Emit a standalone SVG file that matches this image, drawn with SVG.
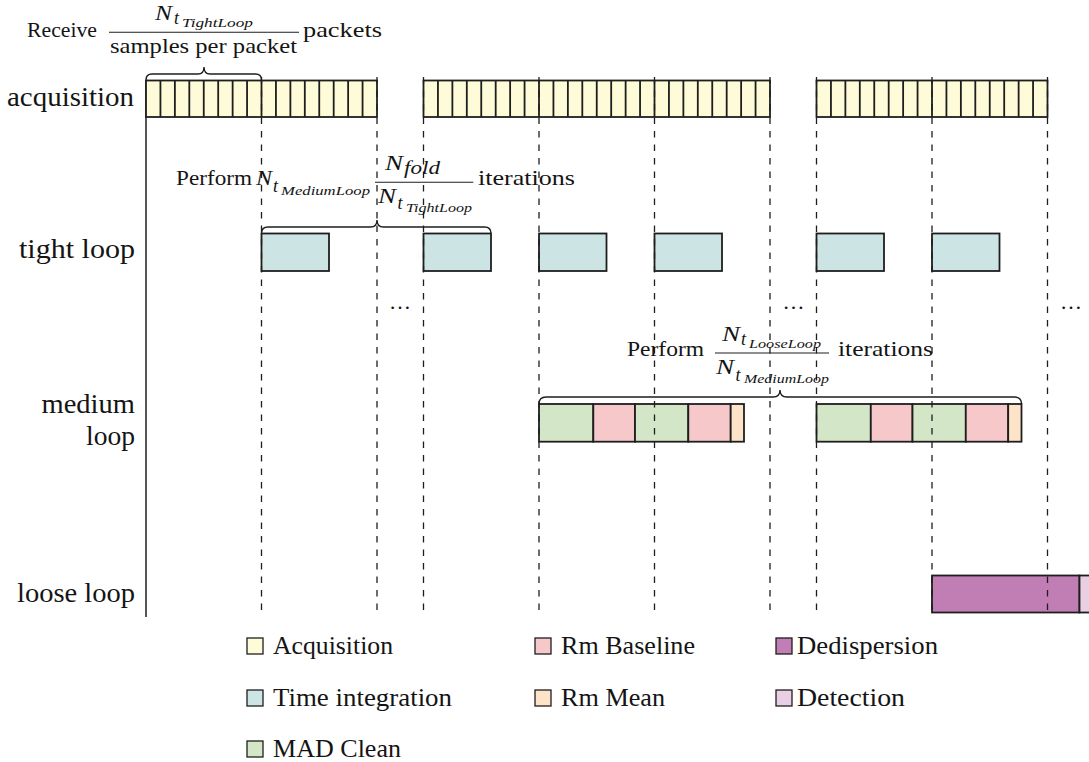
<svg xmlns="http://www.w3.org/2000/svg" width="1089" height="762" viewBox="0 0 1089 762" font-family="'Liberation Serif', Tinos, 'Times New Roman', 'DejaVu Serif', serif">
  <style>
    text { font-family: "Liberation Serif", Tinos, "Times New Roman", "DejaVu Serif", serif; fill: #141414; }
    .lbl { font-size: 28px; }
    .ann { font-size: 22px; }
    .leg { font-size: 25px; }
    .mi { font-style: italic; }
    .sub { font-size: 18px; font-style: italic; }
    .ssub { font-size: 13px; font-style: italic; }
    .box { stroke: #1e1e1e; stroke-width: 1.8; }
    .cell { stroke: #1e1e1e; stroke-width: 1.8; fill: none; }
    .acq { fill: #fefcd8; }
    .tint { fill: #cde4e4; }
    .mad { fill: #d3e7c8; }
    .rmb { fill: #f7c8c9; }
    .rmm { fill: #fde3c7; }
    .dedisp { fill: #c07eb5; }
    .detect { fill: #e8cfe3; }
    .guide { stroke: #1e1e1e; stroke-width: 1.3; stroke-dasharray: 6.5 7; fill: none; }
    .brace { stroke: #1e1e1e; stroke-width: 1.4; fill: none; }
    .frac { stroke: #1e1e1e; stroke-width: 1.1; }
    .legbox { stroke: #1e1e1e; stroke-width: 1.3; }
  </style>

  <!-- row labels -->
  <g id="row-labels">
    <text class="lbl" x="7" y="106" textLength="127" lengthAdjust="spacingAndGlyphs">acquisition</text>
    <text class="lbl" x="19" y="258" textLength="116" lengthAdjust="spacingAndGlyphs">tight loop</text>
    <text class="lbl" x="41.5" y="413" textLength="93.5" lengthAdjust="spacingAndGlyphs">medium</text>
    <text class="lbl" x="86" y="445" textLength="49" lengthAdjust="spacingAndGlyphs">loop</text>
    <text class="lbl" x="17" y="602" textLength="118" lengthAdjust="spacingAndGlyphs">loose loop</text>
  </g>

  <!-- time axis -->
  <line x1="146" y1="80" x2="146" y2="617" stroke="#1e1e1e" stroke-width="1.5"/>

  <!-- acquisition packets -->
  <g id="acquisition-1">
    <rect class="box acq" x="146" y="80.5" width="231" height="36.5"/>
    <path class="cell" d="M160.44 80.5V117M174.88 80.5V117M189.31 80.5V117M203.75 80.5V117M218.19 80.5V117M232.63 80.5V117M247.06 80.5V117M261.5 80.5V117M275.94 80.5V117M290.38 80.5V117M304.81 80.5V117M319.25 80.5V117M333.69 80.5V117M348.13 80.5V117M362.56 80.5V117"/>
  </g>
  <g id="acquisition-2">
    <rect class="box acq" x="423.5" y="80.5" width="346.5" height="36.5"/>
    <path class="cell" d="M437.94 80.5V117M452.38 80.5V117M466.81 80.5V117M481.25 80.5V117M495.69 80.5V117M510.13 80.5V117M524.56 80.5V117M539 80.5V117M553.44 80.5V117M567.88 80.5V117M582.31 80.5V117M596.75 80.5V117M611.19 80.5V117M625.63 80.5V117M640.06 80.5V117M654.5 80.5V117M668.94 80.5V117M683.38 80.5V117M697.81 80.5V117M712.25 80.5V117M726.69 80.5V117M741.13 80.5V117M755.56 80.5V117"/>
  </g>
  <g id="acquisition-3">
    <rect class="box acq" x="816.5" y="80.5" width="231" height="36.5"/>
    <path class="cell" d="M830.94 80.5V117M845.38 80.5V117M859.81 80.5V117M874.25 80.5V117M888.69 80.5V117M903.13 80.5V117M917.56 80.5V117M932 80.5V117M946.44 80.5V117M960.88 80.5V117M975.31 80.5V117M989.75 80.5V117M1004.19 80.5V117M1018.63 80.5V117M1033.06 80.5V117"/>
  </g>

  <!-- tight loop: time integration blocks -->
  <g id="tight-1"><rect class="box tint" x="261.5" y="233.5" width="67.5" height="37.5"/></g>
  <g id="tight-2"><rect class="box tint" x="423.5" y="233.5" width="67.5" height="37.5"/></g>
  <g id="tight-3"><rect class="box tint" x="539" y="233.5" width="67.5" height="37.5"/></g>
  <g id="tight-4"><rect class="box tint" x="654.5" y="233.5" width="67.5" height="37.5"/></g>
  <g id="tight-5"><rect class="box tint" x="816.5" y="233.5" width="67.5" height="37.5"/></g>
  <g id="tight-6"><rect class="box tint" x="932" y="233.5" width="67.5" height="37.5"/></g>

  <!-- medium loop: MAD clean / baseline / mean -->
  <g id="medium-1">
    <rect class="box mad" x="539" y="404" width="54.3" height="37.7"/>
    <rect class="box rmb" x="593.3" y="404" width="41.7" height="37.7"/>
    <rect class="box mad" x="635" y="404" width="53.3" height="37.7"/>
    <rect class="box rmb" x="688.3" y="404" width="42.4" height="37.7"/>
    <rect class="box rmm" x="730.7" y="404" width="13.3" height="37.7"/>
  </g>
  <g id="medium-2">
    <rect class="box mad" x="816.5" y="404" width="54.3" height="37.7"/>
    <rect class="box rmb" x="870.8" y="404" width="41.7" height="37.7"/>
    <rect class="box mad" x="912.5" y="404" width="53.3" height="37.7"/>
    <rect class="box rmb" x="965.8" y="404" width="42.4" height="37.7"/>
    <rect class="box rmm" x="1008.2" y="404" width="13.3" height="37.7"/>
  </g>

  <!-- loose loop: dedispersion + detection -->
  <g id="loose-1">
    <rect class="box dedisp" x="932" y="575.5" width="147.5" height="37"/>
    <rect class="box detect" x="1079.5" y="575.5" width="30" height="37"/>
  </g>

  <!-- iteration boundaries -->
  <g id="connectors">
    <path class="guide" d="M261.5 77V617M377 77V617M423.5 77V617M539 77V617M654.5 77V617M770 77V617M816.5 77V617M932 77V617M1047.5 77V617"/>
    <path class="brace" d="M146 80Q146 74 152 74L198 74Q204 74 204 67Q204 74 210 74L255.5 74Q261.5 74 261.5 80"/>
    <path class="brace" d="M261.5 233.5Q261.5 227 268 227L370.5 227Q377 227 377 220Q377 227 383.5 227L484.5 227Q491 227 491 233.5"/>
    <path class="brace" d="M539 404Q539 397 546 397L773 397Q780 397 780 390Q780 397 787 397L1014.5 397Q1021.5 397 1021.5 404"/>
  </g>

  <!-- annotation: packets per tight loop -->
  <g id="note-acquisition">
    <text class="ann" x="27" y="37" textLength="70" lengthAdjust="spacingAndGlyphs">Receive</text>
    <text class="ann mi" x="155" y="20" textLength="17" lengthAdjust="spacingAndGlyphs">N</text>
    <text class="sub" x="174" y="24">t</text>
    <text class="ssub" x="182" y="27" textLength="71" lengthAdjust="spacingAndGlyphs">TightLoop</text>
    <line class="frac" x1="109" y1="32.3" x2="299" y2="32.3"/>
    <text class="ann" x="110" y="53" textLength="187" lengthAdjust="spacingAndGlyphs">samples per packet</text>
    <text class="ann" x="303" y="37" textLength="79" lengthAdjust="spacingAndGlyphs">packets</text>
  </g>

  <!-- annotation: tight loop iterations -->
  <g id="note-tight">
    <text class="ann" x="176" y="185" textLength="76" lengthAdjust="spacingAndGlyphs">Perform</text>
    <text class="ann mi" x="256" y="185" textLength="16" lengthAdjust="spacingAndGlyphs">N</text>
    <text class="sub" x="273" y="192">t</text>
    <text class="ssub" x="281" y="195" textLength="89" lengthAdjust="spacingAndGlyphs">MediumLoop</text>
    <text class="ann mi" x="385" y="170" textLength="18" lengthAdjust="spacingAndGlyphs">N</text>
    <text class="sub" x="404" y="174" textLength="36" lengthAdjust="spacingAndGlyphs">fold</text>
    <line class="frac" x1="375" y1="182.3" x2="473.3" y2="182.3"/>
    <text class="ann mi" x="378" y="203" textLength="18" lengthAdjust="spacingAndGlyphs">N</text>
    <text class="sub" x="397.5" y="209">t</text>
    <text class="ssub" x="406" y="212" textLength="66" lengthAdjust="spacingAndGlyphs">TightLoop</text>
    <text class="ann" x="478" y="185" textLength="97" lengthAdjust="spacingAndGlyphs">iterations</text>
  </g>

  <!-- annotation: medium loop iterations -->
  <g id="note-medium">
    <text class="ann" x="627" y="356" textLength="77" lengthAdjust="spacingAndGlyphs">Perform</text>
    <text class="ann mi" x="722" y="341" textLength="18" lengthAdjust="spacingAndGlyphs">N</text>
    <text class="sub" x="741" y="344.5">t</text>
    <text class="ssub" x="749" y="347.5" textLength="72" lengthAdjust="spacingAndGlyphs">LooseLoop</text>
    <line class="frac" x1="715" y1="353" x2="829" y2="353"/>
    <text class="ann mi" x="716" y="374" textLength="18" lengthAdjust="spacingAndGlyphs">N</text>
    <text class="sub" x="735.5" y="380.5">t</text>
    <text class="ssub" x="744" y="383" textLength="85" lengthAdjust="spacingAndGlyphs">MediumLoop</text>
    <text class="ann" x="838" y="356" textLength="95" lengthAdjust="spacingAndGlyphs">iterations</text>
  </g>

  <!-- continuation marks -->
  <g id="ellipses">
    <text class="ann" x="400" y="309" text-anchor="middle">…</text>
    <text class="ann" x="793.5" y="309" text-anchor="middle">…</text>
    <text class="ann" x="1071" y="309" text-anchor="middle">…</text>
  </g>

  <!-- legend -->
  <g id="legend">
    <g id="legend-acquisition">
      <rect class="legbox acq" x="247" y="638" width="16" height="16"/>
      <text class="leg" x="273" y="654" textLength="120" lengthAdjust="spacingAndGlyphs">Acquisition</text>
    </g>
    <g id="legend-time-integration">
      <rect class="legbox tint" x="247" y="690" width="16" height="16"/>
      <text class="leg" x="273" y="706" textLength="179" lengthAdjust="spacingAndGlyphs">Time integration</text>
    </g>
    <g id="legend-mad-clean">
      <rect class="legbox mad" x="247" y="741" width="16" height="16"/>
      <text class="leg" x="273" y="757" textLength="128" lengthAdjust="spacingAndGlyphs">MAD Clean</text>
    </g>
    <g id="legend-rm-baseline">
      <rect class="legbox rmb" x="535" y="638" width="16" height="16"/>
      <text class="leg" x="561" y="654" textLength="134" lengthAdjust="spacingAndGlyphs">Rm Baseline</text>
    </g>
    <g id="legend-rm-mean">
      <rect class="legbox rmm" x="535" y="690" width="16" height="16"/>
      <text class="leg" x="561" y="706" textLength="104" lengthAdjust="spacingAndGlyphs">Rm Mean</text>
    </g>
    <g id="legend-dedispersion">
      <rect class="legbox dedisp" x="776" y="638" width="16" height="16"/>
      <text class="leg" x="797" y="654" textLength="141" lengthAdjust="spacingAndGlyphs">Dedispersion</text>
    </g>
    <g id="legend-detection">
      <rect class="legbox detect" x="776" y="690" width="16" height="16"/>
      <text class="leg" x="797" y="706" textLength="108" lengthAdjust="spacingAndGlyphs">Detection</text>
    </g>
  </g>
</svg>
